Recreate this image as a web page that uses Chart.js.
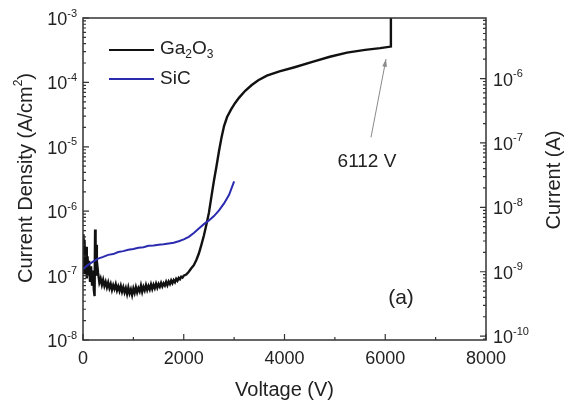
<!DOCTYPE html>
<html>
<head>
<meta charset="utf-8">
<script src="https://cdn.jsdelivr.net/npm/chart.js@4.4.1/dist/chart.umd.min.js"></script>
<style>
    html, body { margin: 0; padding: 0; background: #fff; }
</style>
</head>
<body>
<canvas id="chart" width="570" height="405"></canvas>
<script>
// Datos
const gaVoltaje = [0, 10, 20, 30, 45, 60, 75, 90, 105, 120, 140, 160, 180, 200, 215, 230, 240, 250, 262, 275, 290,
    300, 325, 350, 375, 400, 425, 450, 475, 500, 525, 550, 575, 600, 625, 650, 675, 700, 725, 750, 775, 800, 825, 850, 875,
    900, 925, 950, 975, 1000, 1025, 1050, 1075, 1100, 1125, 1150, 1175, 1200, 1225, 1250, 1275, 1300, 1325, 1350, 1375,
    1400, 1425, 1450, 1475, 1500, 1525, 1550, 1575, 1600, 1625, 1650, 1675, 1700, 1725, 1750, 1775, 1800, 1825, 1850, 1875,
    1900, 1925, 1950, 1975, 2000, 2050, 2100, 2150, 2200, 2250, 2300, 2350, 2400, 2450, 2500, 2550, 2600, 2650, 2700,
    2750, 2800, 2860, 2940, 3020, 3100, 3220, 3350, 3480, 3650, 3900, 4200, 4570, 4900, 5240, 5600, 5900, 6112, 6112];
const gaCorriente = [2.4e-7, 4.4e-7, 1.1e-7, 3.6e-7, 1.3e-7, 2.8e-7, 9e-8, 2.0e-7, 1.0e-7, 1.7e-7, 8e-8, 1.4e-7, 7e-8, 1.2e-7, 6e-8, 4.8e-8, 5.2e-7, 1.2e-7, 3.0e-7, 1.0e-7, 1.3e-7,
    1.1e-7, 7.8e-8, 9.0e-8, 7.2e-8, 8.6e-8, 6.9e-8, 8.0e-8, 6.6e-8, 7.8e-8, 6.4e-8, 7.4e-8, 6.0e-8, 7.1e-8, 6.2e-8, 7.3e-8, 5.9e-8, 6.8e-8, 5.8e-8, 6.9e-8, 5.6e-8, 6.6e-8, 5.5e-8, 6.4e-8, 5.2e-8,
    6.5e-8, 5.3e-8, 6.1e-8, 5.0e-8, 6.3e-8, 5.4e-8, 6.6e-8, 5.5e-8, 6.4e-8, 5.7e-8, 7.0e-8, 5.6e-8, 6.7e-8, 5.9e-8, 7.1e-8, 6.0e-8, 6.9e-8, 6.1e-8, 7.3e-8, 6.2e-8,
    7.2e-8, 6.4e-8, 7.5e-8, 6.5e-8, 7.4e-8, 6.7e-8, 7.7e-8, 6.8e-8, 7.6e-8, 7.0e-8, 8.0e-8, 7.1e-8, 8.1e-8, 7.4e-8, 8.4e-8, 7.6e-8, 8.5e-8, 7.9e-8, 8.9e-8, 8.3e-8,
    9.2e-8, 8.8e-8, 9.6e-8, 9.3e-8, 1.0e-7, 1.04e-7, 1.15e-7, 1.3e-7, 1.45e-7, 1.75e-7, 2.2e-7, 3.0e-7, 4.2e-7, 6.2e-7, 9.5e-7, 1.7e-6, 3.0e-6, 5.0e-6, 8.6e-6,
    1.4e-5, 2.1e-5, 2.9e-5, 3.8e-5, 4.8e-5, 5.8e-5, 7.4e-5, 9.1e-5, 1.08e-4, 1.27e-4, 1.48e-4, 1.72e-4, 2.1e-4, 2.5e-4, 2.9e-4, 3.2e-4, 3.4e-4, 3.6e-4, 1e-3];

const sicVoltaje = [0, 50, 100, 200, 300, 400, 500, 600, 700, 800, 900, 1000, 1100, 1200, 1300, 1400, 1500,
    1600, 1700, 1800, 1900, 2000, 2100, 2200, 2300, 2400, 2500, 2600, 2700, 2800, 2900, 3000];
const sicCorriente = [1.25e-7, 1.36e-7, 1.47e-7, 1.65e-7, 1.84e-7, 1.95e-7, 2.1e-7, 2.16e-7, 2.32e-7, 2.4e-7, 2.52e-7, 2.58e-7, 2.7e-7, 2.76e-7, 2.9e-7, 2.94e-7, 3.02e-7,
    3.06e-7, 3.15e-7, 3.24e-7, 3.42e-7, 3.65e-7, 4.0e-7, 4.6e-7, 5.4e-7, 6.3e-7, 7.2e-7, 8.4e-7, 1.03e-6, 1.32e-6, 1.8e-6, 2.9e-6];

const ticksX = [0, 2000, 4000, 6000, 8000];
const ticksXMenores = [1000, 3000, 5000, 7000];
const exponentesIzq = [-8, -7, -6, -5, -4, -3];
const exponentesDer = [-10, -9, -8, -7, -6];
const rangoIzq = [1e-8, 1e-3];
const rangoDer = [Math.pow(10, -10.06), Math.pow(10, -5.06)];

// Flecha y etiqueta de ruptura
const flechaDesde = [5717, 1.4e-5];
const flechaHasta = [6015, 2.3e-4];
const etiquetaRuptura = { texto: '6112 V', x: 5637, y: 5.8e-6 };

const FUENTE = '"Liberation Sans", Arial, sans-serif';
const NEGRO = '#111111';
const AZUL = '#2b2bb0';

function puntos(xs, ys) {
    return xs.map((x, i) => ({ x: x, y: ys[i] }));
}

// Dibuja texto con partes en subíndice / superíndice
function anchoRico(ctx, partes, tam) {
    let w = 0;
    partes.forEach(p => {
        ctx.font = (p.s ? Math.round(tam * 0.62) : tam) + 'px ' + FUENTE;
        w += ctx.measureText(p.t).width;
    });
    return w;
}

function textoRico(ctx, partes, x, y, tam, align) {
    const w = anchoRico(ctx, partes, tam);
    let cx = x;
    if (align === 'center') cx = x - w / 2;
    if (align === 'right') cx = x - w;
    ctx.textBaseline = 'middle';
    ctx.textAlign = 'left';
    partes.forEach(p => {
        const t = p.s ? Math.round(tam * 0.62) : tam;
        ctx.font = t + 'px ' + FUENTE;
        let dy = 0;
        if (p.s === 'sup') dy = -tam * 0.36;
        if (p.s === 'sub') dy = tam * 0.28;
        ctx.fillText(p.t, cx, y + dy);
        cx += ctx.measureText(p.t).width;
    });
}

function potencia(exp) {
    return [{ t: '10' }, { t: '-' + Math.abs(exp), s: 'sup' }];
}

function menoresLog(min, max) {
    const lista = [];
    for (let e = Math.floor(Math.log10(min)); e <= Math.ceil(Math.log10(max)); e++) {
        for (let m = 2; m <= 9; m++) {
            const v = m * Math.pow(10, e);
            if (v > min && v < max) lista.push(v);
        }
    }
    return lista;
}

const ejesPlugin = {
    id: 'ejesPlugin',
    afterDraw(chart) {
        const ctx = chart.ctx;
        const a = chart.chartArea;
        const sx = chart.scales.x, sy = chart.scales.y, sy2 = chart.scales.y2;
        ctx.save();

        // Marco
        ctx.strokeStyle = '#333';
        ctx.lineWidth = 1.5;
        ctx.strokeRect(a.left, a.top, a.right - a.left, a.bottom - a.top);

        // Marcas del eje X
        ctx.lineWidth = 1.2;
        ctx.beginPath();
        ticksX.forEach(v => {
            const px = sx.getPixelForValue(v);
            ctx.moveTo(px, a.bottom); ctx.lineTo(px, a.bottom - 6);
        });
        ticksXMenores.forEach(v => {
            const px = sx.getPixelForValue(v);
            ctx.moveTo(px, a.bottom); ctx.lineTo(px, a.bottom - 3);
        });
        // Marcas eje izquierdo
        exponentesIzq.forEach(e => {
            const py = sy.getPixelForValue(Math.pow(10, e));
            ctx.moveTo(a.left, py); ctx.lineTo(a.left + 6, py);
        });
        menoresLog(rangoIzq[0], rangoIzq[1]).forEach(v => {
            const py = sy.getPixelForValue(v);
            ctx.moveTo(a.left, py); ctx.lineTo(a.left + 3, py);
        });
        // Marcas eje derecho
        exponentesDer.forEach(e => {
            const py = sy2.getPixelForValue(Math.pow(10, e));
            ctx.moveTo(a.right, py); ctx.lineTo(a.right - 6, py);
        });
        menoresLog(rangoDer[0], rangoDer[1]).forEach(v => {
            const py = sy2.getPixelForValue(v);
            ctx.moveTo(a.right, py); ctx.lineTo(a.right - 3, py);
        });
        ctx.stroke();

        // Etiquetas
        ctx.fillStyle = '#222';
        ctx.textAlign = 'center';
        ctx.textBaseline = 'middle';
        ctx.font = '18px ' + FUENTE;
        ticksX.forEach(v => {
            ctx.fillText(String(v), sx.getPixelForValue(v), a.bottom + 19);
        });
        exponentesIzq.forEach(e => {
            textoRico(ctx, potencia(e), a.left - 6, sy.getPixelForValue(Math.pow(10, e)) + 2, 18, 'right');
        });
        exponentesDer.forEach(e => {
            textoRico(ctx, potencia(e), a.right + 7, sy2.getPixelForValue(Math.pow(10, e)) + 2, 18, 'left');
        });

        // Títulos de ejes
        ctx.fillStyle = '#222';
        textoRico(ctx, [{ t: 'Voltage (V)' }], (a.left + a.right) / 2, 390, 20, 'center');
        ctx.save();
        ctx.translate(26, 178);
        ctx.rotate(-Math.PI / 2);
        textoRico(ctx, [{ t: 'Current Density (A/cm' }, { t: '2', s: 'sup' }, { t: ')' }], 0, 0, 20, 'center');
        ctx.restore();
        ctx.save();
        ctx.translate(554, 180);
        ctx.rotate(-Math.PI / 2);
        textoRico(ctx, [{ t: 'Current (A)' }], 0, 0, 20, 'center');
        ctx.restore();

        // Leyenda
        ctx.lineWidth = 2.2;
        ctx.strokeStyle = NEGRO;
        ctx.beginPath(); ctx.moveTo(a.left + 26, 50); ctx.lineTo(a.left + 71, 50); ctx.stroke();
        ctx.strokeStyle = AZUL;
        ctx.beginPath(); ctx.moveTo(a.left + 26, 79); ctx.lineTo(a.left + 71, 79); ctx.stroke();
        textoRico(ctx, [{ t: 'Ga' }, { t: '2', s: 'sub' }, { t: 'O' }, { t: '3', s: 'sub' }], a.left + 77, 49, 19, 'left');
        textoRico(ctx, [{ t: 'SiC' }], a.left + 77, 79, 19, 'left');

        // Flecha de ruptura
        const x0 = sx.getPixelForValue(flechaDesde[0]), y0 = sy.getPixelForValue(flechaDesde[1]);
        const x1 = sx.getPixelForValue(flechaHasta[0]), y1 = sy.getPixelForValue(flechaHasta[1]);
        ctx.strokeStyle = '#8a8a8a';
        ctx.fillStyle = '#8a8a8a';
        ctx.lineWidth = 1;
        ctx.beginPath(); ctx.moveTo(x0, y0); ctx.lineTo(x1, y1); ctx.stroke();
        const ang = Math.atan2(y1 - y0, x1 - x0);
        ctx.beginPath();
        ctx.moveTo(x1, y1);
        ctx.lineTo(x1 - 8 * Math.cos(ang - 0.3), y1 - 8 * Math.sin(ang - 0.3));
        ctx.lineTo(x1 - 8 * Math.cos(ang + 0.3), y1 - 8 * Math.sin(ang + 0.3));
        ctx.closePath();
        ctx.fill();

        ctx.fillStyle = '#222';
        textoRico(ctx, [{ t: etiquetaRuptura.texto }], sx.getPixelForValue(etiquetaRuptura.x),
            sy.getPixelForValue(etiquetaRuptura.y), 19, 'center');
        textoRico(ctx, [{ t: '(a)' }], 401, 298, 21, 'center');

        ctx.restore();
    }
};

const ctx = document.getElementById('chart').getContext('2d');
new Chart(ctx, {
    type: 'line',
    data: {
        datasets: [{
            label: 'SiC',
            data: puntos(sicVoltaje, sicCorriente),
            borderColor: AZUL,
            borderWidth: 2,
            pointRadius: 0,
            tension: 0,
            order: 0,
            yAxisID: 'y'
        }, {
            label: 'Ga2O3',
            data: puntos(gaVoltaje, gaCorriente),
            borderColor: NEGRO,
            borderWidth: 2.4,
            pointRadius: 0,
            tension: 0,
            order: 1,
            yAxisID: 'y'
        }]
    },
    options: {
        responsive: false,
        animation: false,
        devicePixelRatio: 1,
        layout: { padding: { top: 18, left: 0, right: 0, bottom: 0 } },
        plugins: { legend: { display: false }, tooltip: { enabled: false } },
        scales: {
            x: {
                type: 'linear', min: 0, max: 8000,
                grid: { display: false }, border: { display: false },
                ticks: { display: false },
                afterFit: s => { s.height = 65; }
            },
            y: {
                type: 'logarithmic', position: 'left', min: rangoIzq[0], max: rangoIzq[1],
                grid: { display: false }, border: { display: false },
                ticks: { display: false },
                afterFit: s => { s.width = 83; }
            },
            y2: {
                type: 'logarithmic', position: 'right', min: rangoDer[0], max: rangoDer[1],
                grid: { display: false }, border: { display: false },
                ticks: { display: false },
                afterFit: s => { s.width = 84; }
            }
        }
    },
    plugins: [ejesPlugin]
});
</script>
</body>
</html>
